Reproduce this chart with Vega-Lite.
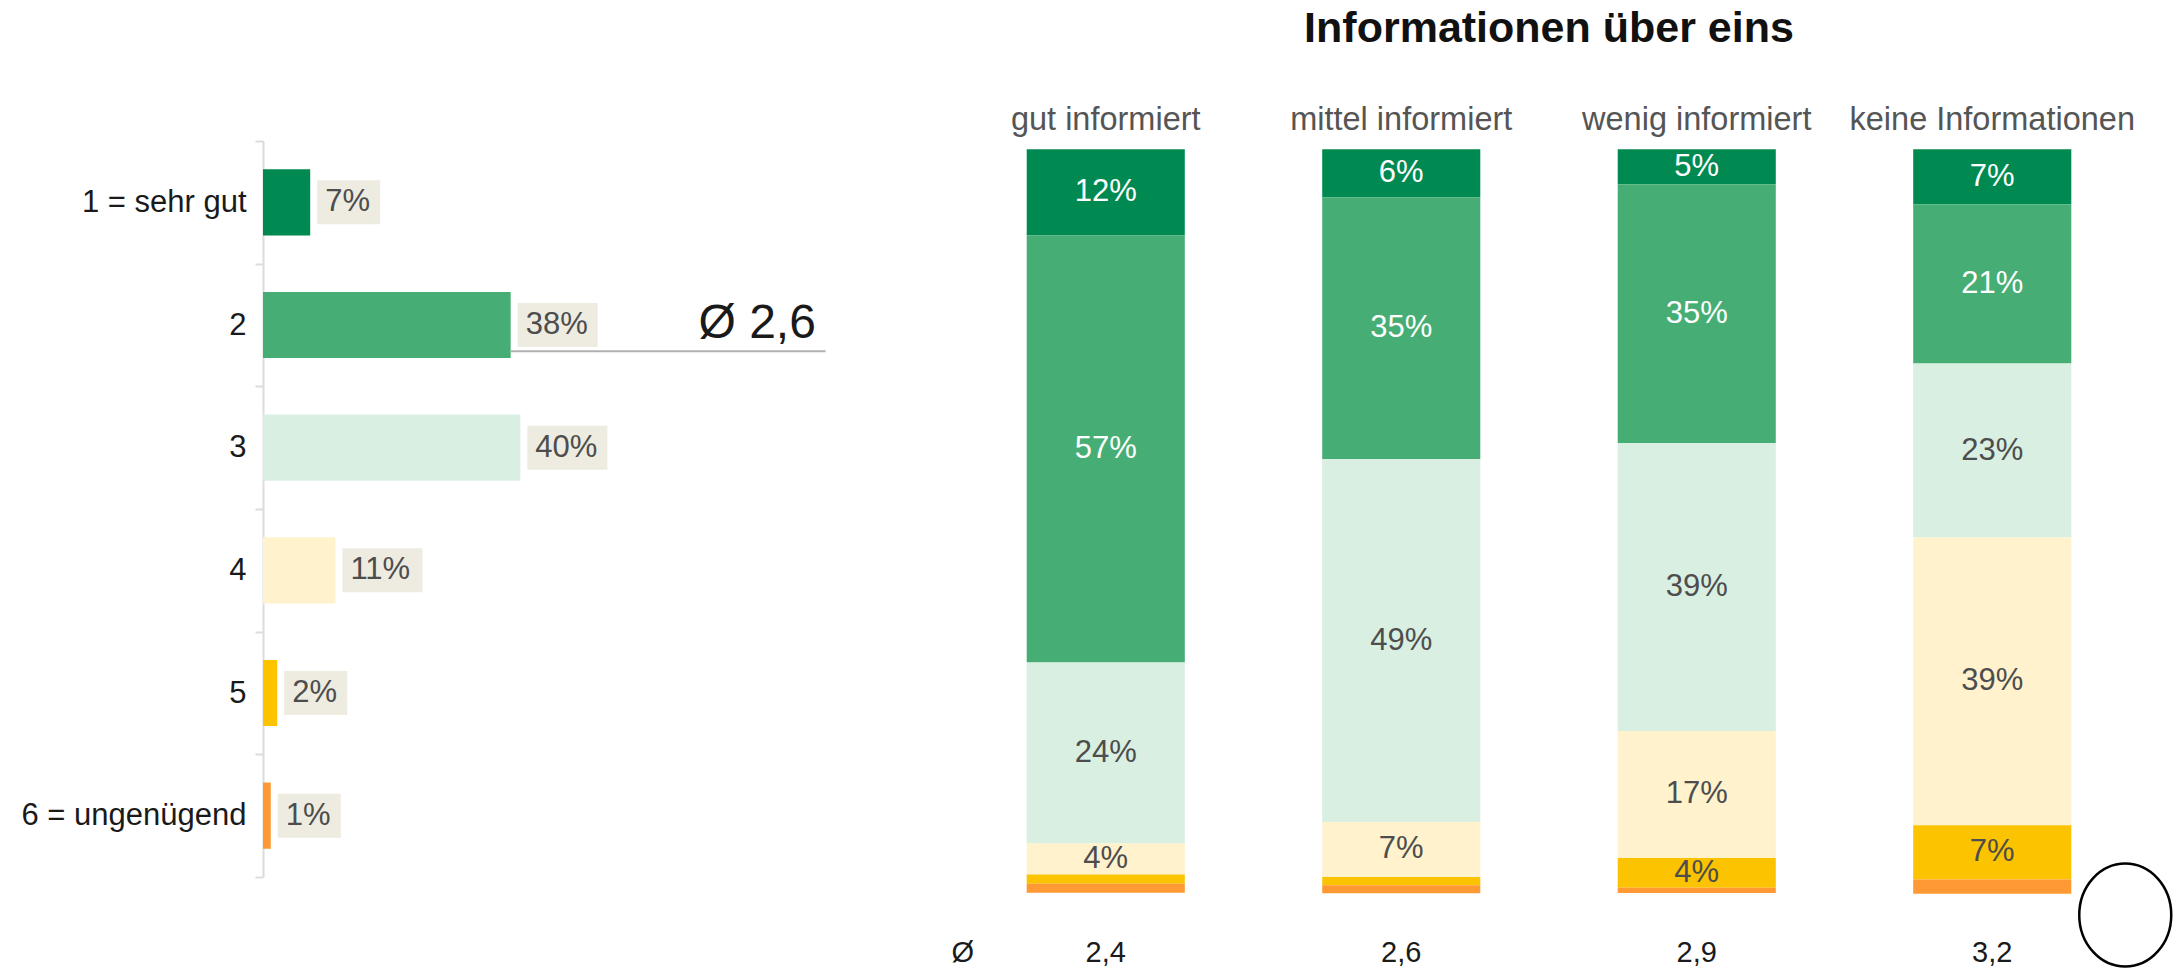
{
  "$schema": "https://vega.github.io/schema/vega-lite/v6.json",
  "padding": {"left": 21, "top": 8, "right": 0, "bottom": 0},
  "background": "white",
  "spacing": 106,
  "config": {"view": {"stroke": null}, "font": "Liberation Sans"},
  "datasets": {
    "gesamt": [
      {"stufe": 1, "note": "1 = sehr gut", "anteil": 0.073},
      {"stufe": 2, "note": "2", "anteil": 0.383},
      {"stufe": 3, "note": "3", "anteil": 0.398},
      {"stufe": 4, "note": "4", "anteil": 0.112},
      {"stufe": 5, "note": "5", "anteil": 0.022},
      {"stufe": 6, "note": "6 = ungenügend", "anteil": 0.012}
    ],
    "gruppen": [
      {"gruppe": "gut informiert", "stufe": 1, "anteil": 0.116},
      {"gruppe": "gut informiert", "stufe": 2, "anteil": 0.574},
      {"gruppe": "gut informiert", "stufe": 3, "anteil": 0.243},
      {"gruppe": "gut informiert", "stufe": 4, "anteil": 0.042},
      {"gruppe": "gut informiert", "stufe": 5, "anteil": 0.0125},
      {"gruppe": "gut informiert", "stufe": 6, "anteil": 0.012},
      {"gruppe": "mittel informiert", "stufe": 1, "anteil": 0.0645},
      {"gruppe": "mittel informiert", "stufe": 2, "anteil": 0.352},
      {"gruppe": "mittel informiert", "stufe": 3, "anteil": 0.488},
      {"gruppe": "mittel informiert", "stufe": 4, "anteil": 0.074},
      {"gruppe": "mittel informiert", "stufe": 5, "anteil": 0.011},
      {"gruppe": "mittel informiert", "stufe": 6, "anteil": 0.011},
      {"gruppe": "wenig informiert", "stufe": 1, "anteil": 0.047},
      {"gruppe": "wenig informiert", "stufe": 2, "anteil": 0.348},
      {"gruppe": "wenig informiert", "stufe": 3, "anteil": 0.387},
      {"gruppe": "wenig informiert", "stufe": 4, "anteil": 0.171},
      {"gruppe": "wenig informiert", "stufe": 5, "anteil": 0.040},
      {"gruppe": "wenig informiert", "stufe": 6, "anteil": 0.007},
      {"gruppe": "keine Informationen", "stufe": 1, "anteil": 0.074},
      {"gruppe": "keine Informationen", "stufe": 2, "anteil": 0.214},
      {"gruppe": "keine Informationen", "stufe": 3, "anteil": 0.234},
      {"gruppe": "keine Informationen", "stufe": 4, "anteil": 0.387},
      {"gruppe": "keine Informationen", "stufe": 5, "anteil": 0.073},
      {"gruppe": "keine Informationen", "stufe": 6, "anteil": 0.019}
    ],
    "mittel": [
      {"gruppe": "gut informiert", "wert": "2,4"},
      {"gruppe": "mittel informiert", "wert": "2,6"},
      {"gruppe": "wenig informiert", "wert": "2,9"},
      {"gruppe": "keine Informationen", "wert": "3,2"}
    ]
  },
  "hconcat": [
    {
      "width": 582,
      "height": 736,
      "data": {"name": "gesamt"},
      "encoding": {
        "y": {
          "field": "note",
          "type": "nominal",
          "sort": null,
          "scale": {"paddingInner": 0, "paddingOuter": 0},
          "axis": {
            "title": null,
            "labelFontSize": 31,
            "labelColor": "#1a1a1a",
            "labelPadding": 9,
            "labelLimit": 0,
            "tickBand": "extent",
            "tickSize": 8,
            "tickWidth": 2,
            "tickColor": "#dcdcdc",
            "domainColor": "#dcdcdc",
            "domainWidth": 2,
            "grid": false
          }
        }
      },
      "layer": [
        {
          "mark": {"type": "bar", "height": {"band": 0.54}},
          "encoding": {
            "x": {"field": "anteil", "type": "quantitative", "scale": {"domain": [0, 0.9], "nice": false}, "axis": null},
            "color": {
              "field": "stufe",
              "type": "ordinal",
              "scale": {"domain": [1, 2, 3, 4, 5, 6], "range": ["#008A52", "#46AE74", "#D8EFE2", "#FFF2CD", "#FBC300", "#FF9933"]},
              "legend": null
            }
          }
        },
        {
          "transform": [{"filter": "datum.anteil < 0.095"}],
          "mark": {"type": "tick", "thickness": 63, "size": 44, "xOffset": 38.5, "color": "#EEEBE0", "opacity": 1},
          "encoding": {"x": {"field": "anteil", "type": "quantitative"}}
        },
        {
          "transform": [{"filter": "datum.anteil >= 0.095"}],
          "mark": {"type": "tick", "thickness": 80, "size": 44, "xOffset": 47, "color": "#EEEBE0", "opacity": 1},
          "encoding": {"x": {"field": "anteil", "type": "quantitative"}}
        },
        {
          "mark": {"type": "text", "align": "left", "baseline": "middle", "dx": 15, "fontSize": 31, "color": "#4d4d4d"},
          "encoding": {
            "x": {"field": "anteil", "type": "quantitative"},
            "text": {"field": "anteil", "type": "quantitative", "format": ".0%"}
          }
        },
        {
          "transform": [{"filter": "datum.stufe == 2"}],
          "mark": {"type": "rule", "color": "#b0b0b0", "strokeWidth": 2},
          "encoding": {
            "x": {"field": "anteil", "type": "quantitative"},
            "x2": {"datum": 0.87},
            "y": {"field": "note", "type": "nominal", "bandPosition": 0.715}
          }
        },
        {
          "transform": [{"filter": "datum.stufe == 2"}],
          "mark": {"type": "text", "align": "right", "baseline": "alphabetic", "fontSize": 48, "color": "#1a1a1a"},
          "encoding": {
            "x": {"datum": 0.855, "type": "quantitative"},
            "y": {"field": "note", "type": "nominal", "bandPosition": 0.61},
            "text": {"value": "Ø 2,6"}
          }
        }
      ]
    },
    {
      "width": 1182,
      "height": 752,
      "title": {
        "text": "Informationen über eins",
        "fontSize": 43,
        "fontWeight": "bold",
        "color": "#111111",
        "anchor": "middle",
        "baseline": "alphabetic",
        "offset": 18
      },
      "layer": [
        {
          "data": {"name": "gruppen"},
          "mark": {"type": "bar"},
          "encoding": {
            "x": {
              "field": "gruppe",
              "type": "nominal",
              "scale": {"domain": ["gut informiert", "mittel informiert", "wenig informiert", "keine Informationen"], "paddingInner": 0.465, "paddingOuter": 0.2325},
              "axis": {
                "orient": "top",
                "title": null,
                "ticks": false,
                "tickSize": 0,
                "domain": false,
                "labelAngle": 0,
                "labelFontSize": 32.5,
                "labelColor": "#555555",
                "labelPadding": 12,
                "labelLimit": 0,
                "labelBaseline": "alphabetic"
              }
            },
            "y": {
              "field": "anteil",
              "type": "quantitative",
              "stack": "zero",
              "scale": {"domain": [-0.0112, 1], "reverse": true, "nice": false, "zero": false},
              "axis": null
            },
            "color": {
              "field": "stufe",
              "type": "ordinal",
              "scale": {"domain": [1, 2, 3, 4, 5, 6], "range": ["#008A52", "#46AE74", "#D8EFE2", "#FFF2CD", "#FBC300", "#FF9933"]},
              "legend": null
            },
            "order": {"field": "stufe", "type": "quantitative"}
          }
        },
        {
          "data": {"name": "gruppen"},
          "mark": {"type": "text", "align": "center", "baseline": "middle", "fontSize": 31},
          "encoding": {
            "x": {"field": "gruppe", "type": "nominal"},
            "y": {"field": "anteil", "type": "quantitative", "stack": "zero", "bandPosition": 0.5},
            "detail": {"field": "stufe", "type": "ordinal"},
            "order": {"field": "stufe", "type": "quantitative"},
            "text": {"condition": {"test": "datum.anteil < 0.03", "value": ""}, "field": "anteil", "type": "quantitative", "format": ".0%"},
            "color": {"condition": {"test": "datum.stufe <= 2", "value": "#ffffff"}, "value": "#4d4d4d"}
          }
        },
        {
          "data": {"name": "mittel"},
          "mark": {"type": "text", "align": "center", "baseline": "middle", "fontSize": 29, "color": "#1a1a1a", "yOffset": 60},
          "encoding": {
            "x": {"field": "gruppe", "type": "nominal"},
            "y": {"datum": 1, "type": "quantitative"},
            "text": {"field": "wert"}
          }
        },
        {
          "data": {"values": [{"zeichen": "Ø"}]},
          "mark": {"type": "text", "align": "center", "baseline": "middle", "fontSize": 29, "color": "#1a1a1a", "yOffset": 60, "xOffset": -143},
          "encoding": {
            "x": {"datum": "gut informiert", "type": "nominal"},
            "y": {"datum": 1, "type": "quantitative"},
            "text": {"field": "zeichen"}
          }
        },
        {
          "data": {"values": [{"kreis": 1}]},
          "mark": {"type": "point", "shape": "M-1,0A1,1.12,0,1,1,1,0A1,1.12,0,1,1,-1,0Z", "size": 8464, "filled": false, "stroke": "#000000", "strokeWidth": 2.5, "opacity": 1, "xOffset": 133, "yOffset": 22},
          "encoding": {
            "x": {"datum": "keine Informationen", "type": "nominal"},
            "y": {"datum": 1, "type": "quantitative"}
          }
        }
      ]
    }
  ]
}
